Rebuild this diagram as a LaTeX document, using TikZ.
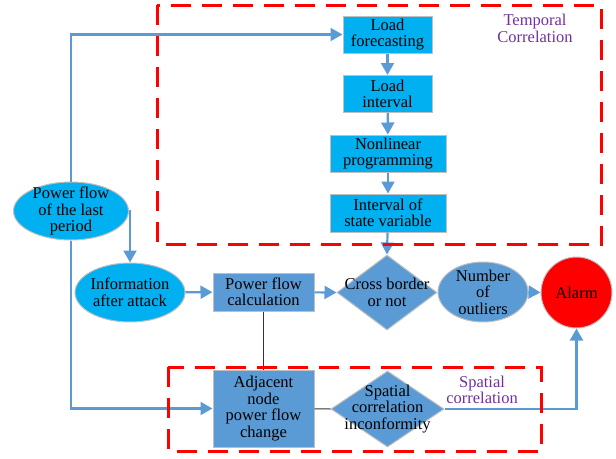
\documentclass[tikz,border=0pt]{standalone}
\usepackage{fontspec}
\setmainfont{Liberation Serif}
\newfontfamily\tnr{Liberation Serif}
\usetikzlibrary{shapes.geometric,arrows.meta}
\definecolor{cyanfill}{HTML}{00B0F0}
\definecolor{steel}{HTML}{5B9BD5}
\definecolor{purp}{HTML}{7030A0}
\definecolor{edgegray}{HTML}{BFBFBF}
\tikzset{
  txt/.style={font=\tnr\fontsize{16.5}{16.5}\selectfont, align=center, inner sep=0pt},
  cbox/.style={txt, rectangle, fill=cyanfill, draw=edgegray, line width=1pt},
  sbox/.style={txt, rectangle, fill=steel, draw=edgegray, line width=1pt},
  cell/.style={ellipse, fill=cyanfill, draw=edgegray, line width=1pt, inner sep=0pt},
  sell/.style={ellipse, fill=steel, draw=edgegray, line width=1pt, inner sep=0pt},
  sdia/.style={diamond, fill=steel, draw=edgegray, line width=1pt, inner sep=0pt},
  arr/.style={draw=steel, line width=2.2pt, -{Triangle[length=12pt,width=13pt]}},
  thin/.style={draw=black!80, line width=1pt},
  reddash/.style={draw=red, line width=3pt, dash pattern=on 20pt off 11pt},
  lbl/.style={txt, text=purp}
}
\begin{document}
\begin{tikzpicture}[x=1pt,y=-1pt]
\useasboundingbox (0,0) rectangle (616,458);
% top column
\node[cbox, minimum width=89pt, minimum height=37pt] (lf) at (387.5,34.5) {Load\\forecasting};
\node[cbox, minimum width=89pt, minimum height=37pt] (li) at (387.5,94) {Load\\interval};
\node[cbox, minimum width=116pt, minimum height=37pt] (nl) at (388,153.5) {Nonlinear\\programming};
\node[cbox, minimum width=116pt, minimum height=38pt] (isv) at (388,213) {Interval of\\state variable};
% left ellipses
\node[cell, minimum width=115pt, minimum height=58pt] (last) at (71,211) {};
\node[txt] (lastt) at (last) {Power flow\\of the last\\period};
\node[cell, minimum width=110pt, minimum height=59pt] (info) at (130,292.5) {};
\node[txt] (infot) at (info) {Information\\after attack};
% middle row
\node[sbox, minimum width=101pt, minimum height=38pt] (pfc) at (263.5,292) {Power flow\\calculation};
\node[sdia, minimum width=100pt, minimum height=75pt] (cb) at (387,292.5) {};
\node[txt] (cbt) at (cb) {Cross border\\or not};
\node[sell, minimum width=90pt, minimum height=60pt] (out) at (483,292) {};
\node[txt] (outt) at (out) {Number\\of\\outliers};
\node[circle, fill=red, draw=edgegray, line width=1pt, minimum size=71pt, inner sep=0pt, txt] (alarm) at (576.5,292.5) {Alarm};
% bottom row
\node[sbox, minimum width=101pt, minimum height=77pt] (adj) at (263.5,408.5) {Adjacent\\node\\power flow\\change};
\node[sdia, minimum width=113pt, minimum height=76pt] (sc) at (387.5,409) {};
\node[txt] (sct) at (sc) {Spatial\\correlation\\inconformity};
% labels
\node[lbl] (tlab) at (535,28.5) {Temporal\\Correlation};
\node[lbl] (slab) at (482,390) {Spatial\\correlation};
% connectors
\draw[arr] (last.north) |- (lf.west);
\draw[arr] (last.south) |- (adj.west);
\draw[arr] (last.east) -| (info.north);
\draw[arr] (lf) -- (li);
\draw[arr] (li) -- (nl);
\draw[arr] (nl) -- (isv);
\draw[arr] (isv) -- (cb.north);
\draw[arr] (info) -- (pfc);
\draw[arr] (pfc) -- (cb.west);
\draw[arr] (out.east) -- (alarm.west);
\draw[thin] (pfc) -- (adj);
\draw[thin] (adj) -- (sc.west);
\draw[arr] (sc.east) -| (alarm.south);
% red dashed regions
\draw[reddash] (157,5) rectangle (601.5,244);
\draw[reddash] (168,367) rectangle (541.5,451);
\end{tikzpicture}
\end{document}
